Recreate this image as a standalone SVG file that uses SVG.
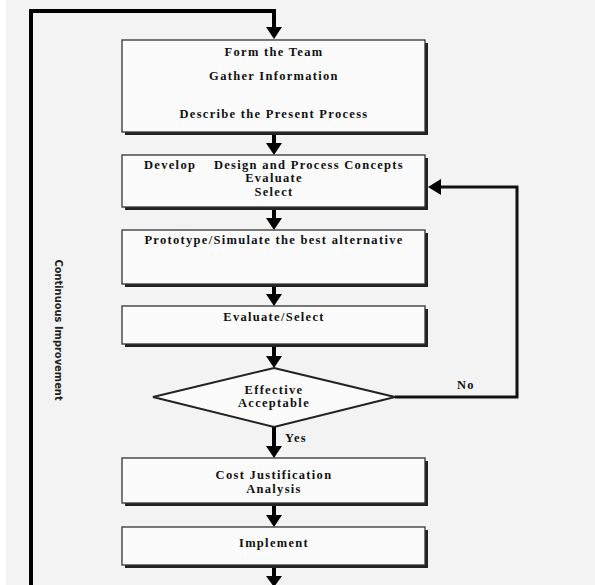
<svg xmlns="http://www.w3.org/2000/svg" width="595" height="585" viewBox="0 0 595 585">
<defs>
<style>
.bg{fill:#f3f3f3}
.shadow{fill:#222}
.box{fill:#fbfbfb;stroke:#333;stroke-width:1.3}
.t{font-family:"Liberation Serif","Times New Roman",serif;font-weight:bold;font-size:12.5px;letter-spacing:1.3px;fill:#111;text-anchor:middle}
.v{font-family:"Liberation Sans Narrow","DejaVu Sans Condensed",sans-serif;font-weight:bold;font-size:11px;fill:#222;text-anchor:middle}
.line{fill:none;stroke:#000;stroke-width:4}
.thin{fill:none;stroke:#111;stroke-width:3}
.head{fill:#000}
</style>
</defs>
<rect class="bg" x="0" y="0" width="595" height="585"/>
<rect x="0" y="0" width="6" height="585" fill="#fff"/>

<g id="connectors">
<path class="line" d="M31,585 V11 H274 V28"/>
<path d="M266,27 L282,27 L274,39 Z" class="head"/>
<path class="line" d="M274,133 V144"/>
<path d="M266,143 L282,143 L274,155 Z" class="head"/>
<path class="line" d="M274,208 V219"/>
<path d="M266,218 L282,218 L274,230 Z" class="head"/>
<path class="line" d="M274,285 V295"/>
<path d="M266,294 L282,294 L274,306 Z" class="head"/>
<path class="line" d="M274,345 V357"/>
<path d="M266,356 L282,356 L274,368 Z" class="head"/>
<path class="line" d="M274,427 V447"/>
<path d="M266,446 L282,446 L274,458 Z" class="head"/>
<path class="line" d="M274,504 V516"/>
<path d="M266,515 L282,515 L274,527 Z" class="head"/>
<path class="line" d="M274,566 V577"/>
<path d="M266,576 L282,576 L274,587 Z" class="head"/>
<path class="thin" d="M395,397 H517 V187 H440"/>
<path d="M441,179 L441,195 L428,187 Z" class="head"/>
<text class="t" x="466" y="389">No</text>
<text class="t" x="296" y="442" text-anchor="start">Yes</text>
<text class="v" transform="translate(55,330) rotate(90)">Continuous Improvement</text>
</g>

<g id="n1">
<rect class="shadow" x="125" y="43" width="303" height="92"/>
<rect class="box" x="122" y="40" width="303" height="92"/>
<text class="t" x="274" y="56">Form the Team</text>
<text class="t" x="274" y="80">Gather Information</text>
<text class="t" x="274" y="118">Describe the Present Process</text>
</g>

<g id="n2">
<rect class="shadow" x="125" y="158" width="303" height="52"/>
<rect class="box" x="122" y="155" width="303" height="52"/>
<text class="t" x="274" y="169" xml:space="preserve">Develop    Design and Process Concepts</text>
<text class="t" x="274" y="182">Evaluate</text>
<text class="t" x="274" y="196">Select</text>
</g>

<g id="n3">
<rect class="shadow" x="125" y="233" width="303" height="54"/>
<rect class="box" x="122" y="230" width="303" height="54"/>
<text class="t" x="274" y="244">Prototype/Simulate the best alternative</text>
</g>

<g id="n4">
<rect class="shadow" x="125" y="309" width="303" height="38"/>
<rect class="box" x="122" y="306" width="303" height="38"/>
<text class="t" x="274" y="321">Evaluate/Select</text>
</g>

<g id="n5">
<path d="M274,368 L395,397 L274,427 L153,397 Z" fill="#fbfbfb" stroke="#222" stroke-width="2"/>
<text class="t" x="274" y="394">Effective</text>
<text class="t" x="274" y="407">Acceptable</text>
</g>

<g id="n6">
<rect class="shadow" x="125" y="461" width="303" height="45"/>
<rect class="box" x="122" y="458" width="303" height="45"/>
<text class="t" x="274" y="479">Cost Justification</text>
<text class="t" x="274" y="493">Analysis</text>
</g>

<g id="n7">
<rect class="shadow" x="125" y="530" width="303" height="38"/>
<rect class="box" x="122" y="527" width="303" height="38"/>
<text class="t" x="274" y="547">Implement</text>
</g>
</svg>
